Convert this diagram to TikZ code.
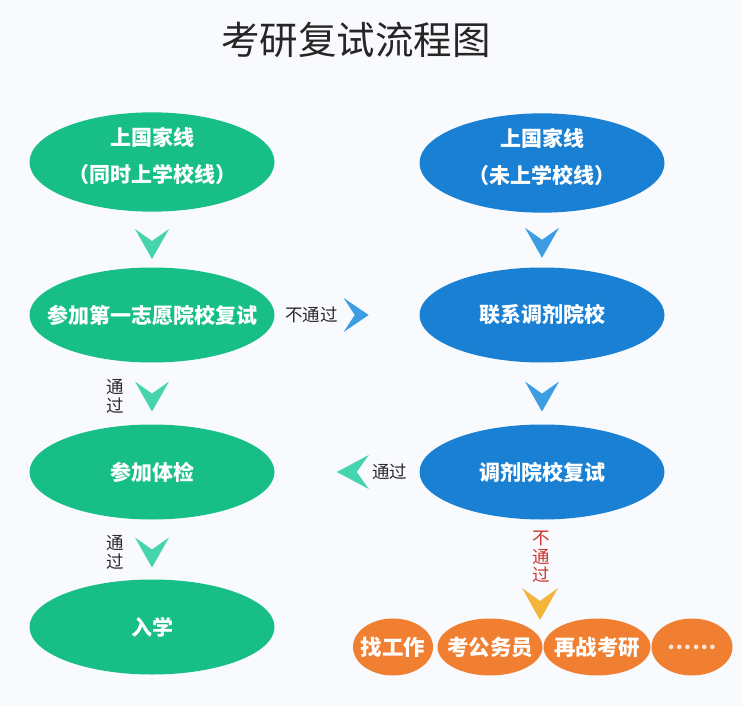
\documentclass[tikz,border=0pt]{standalone}
\usepackage{fontspec}
\setmainfont{Noto Sans CJK SC}
\usetikzlibrary{shapes.geometric,calc}
\definecolor{gfill}{HTML}{17BF86}
\definecolor{gchev}{HTML}{45D4AE}
\definecolor{bfill}{HTML}{1A80D4}
\definecolor{bchev}{HTML}{3D9DE3}
\definecolor{ofill}{HTML}{F07F32}
\definecolor{ychev}{HTML}{F4B63A}
\definecolor{bgc}{HTML}{F9FAFD}
\definecolor{lbl}{HTML}{2A2A2A}
\definecolor{redlbl}{HTML}{D0342C}
\newcommand\chevdown[2]{\fill[#2, shift={#1}] (-17,-15) -- (0,15) -- (17,-15) -- (0,-3) -- cycle;}
\newcommand\zw[1]{\makebox[0pt]{#1}}
\begin{document}
\begin{tikzpicture}[x=1pt,y=-1pt,
  oval/.style={ellipse, minimum width=245pt, minimum height=95pt, inner sep=0pt, text=white,
    font=\bfseries\fontsize{21}{37}\selectfont, align=center},
  gov/.style={oval, fill=gfill},
  bov/.style={oval, fill=bfill},
  twoline/.style={text depth=15pt},
  oov/.style={ellipse, fill=ofill, minimum height=57pt, inner sep=0pt, text=white,
    font=\bfseries\fontsize{21.5}{24}\selectfont},
  lab/.style={text=lbl, font=\fontsize{17.5}{19}\selectfont, inner sep=0pt, align=center},
  title/.style={text=black!85, font=\fontsize{38.5}{44}\selectfont, inner sep=0pt}
]
\fill[bgc] (0,0) rectangle (742,706);
\useasboundingbox (0,0) rectangle (742,706);

\node[title] (t) at (356,40) {考研复试流程图};

% left column
\node[gov, twoline] (g1) at (152,162) {\zw{上国家线}\\\zw{（同时上学校线）}};
\node[gov] (g2) at (152,315) {\zw{参加第一志愿院校复试}};
\node[gov] (g3) at (152,472) {\zw{参加体检}};
\node[gov] (g4) at (152,627) {\zw{入学}};

% right column
\node[bov, twoline] (b1) at (542,163) {\zw{上国家线}\\\zw{（未上学校线）}};
\node[bov] (b2) at (542,315) {\zw{联系调剂院校}};
\node[bov] (b3) at (542,472) {\zw{调剂院校复试}};

% bottom options
\node[oov, minimum width=80pt]  (o1) at (393,647) {\zw{找工作}};
\node[oov, minimum width=105pt] (o2) at (490,647) {\zw{考公务员}};
\node[oov, minimum width=107pt] (o3) at (597,647) {\zw{再战考研}};
\node[oov, minimum width=81pt, text=white!80!ofill]  (o4) at (692,647) {\zw{……}};

% chevrons left column
\chevdown{($(g1.south)!0.58!(g2.north)$)}{gchev}
\chevdown{($(g2.south)!0.55!(g3.north)$)}{gchev}
\chevdown{($(g3.south)!0.55!(g4.north)$)}{gchev}
\node[lab] (p1) at ($(g2.south)!0.55!(g3.north)+(-37,0)$) {通\\过};
\node[lab] (p2) at ($(g3.south)!0.55!(g4.north)+(-37,0)$) {通\\过};

% chevrons right column
\chevdown{($(b1.south)!0.55!(b2.north)$)}{bchev}
\chevdown{($(b2.south)!0.55!(b3.north)$)}{bchev}

% fail -> adjust
\coordinate (fr) at ($(g2.east)!0.56!(b2.west)$);
\fill[bchev, shift={(fr)}] (-12,-17) -- (13,0) -- (-12,17) -- (-1,0) -- cycle;
\node[lab] (nf) at ($(fr)+(-44,0)$) {不通过};

% pass <- adjust
\coordinate (fl) at ($(g3.east)!0.54!(b3.west)$);
\fill[gchev, shift={(fl)}] (16,-17) -- (-16,0) -- (16,17) -- (4,0) -- cycle;
\node[lab] (ps) at ($(fl)+(37,0)$) {通过};

% fail -> options
\node[lab, text=redlbl, font=\fontsize{17.5}{18.5}\selectfont] (nf2) at (541,557) {不\\通\\过};
\fill[ychev, shift={(540,604)}] (-18,-16) -- (0,16) -- (18,-16) -- (0,-3) -- cycle;
\end{tikzpicture}
\end{document}
